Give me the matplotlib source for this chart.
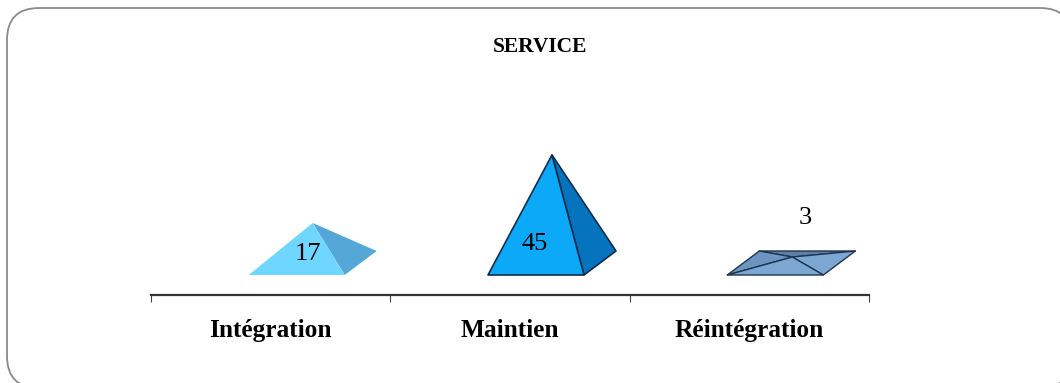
import matplotlib
matplotlib.use("Agg")
import matplotlib.pyplot as plt
from matplotlib.patches import FancyBboxPatch, Polygon

W, H = 1060, 383
categories = ["Intégration", "Maintien", "Réintégration"]
values = [17, 45, 3]
title = "SERVICE"

fig = plt.figure(figsize=(W / 100, H / 100), dpi=100)
bg = fig.add_axes([0, 0, 1, 1])
bg.set_xlim(0, W)
bg.set_ylim(H, 0)
bg.axis("off")
bg.add_patch(FancyBboxPatch((7, 8), 1065, 380, boxstyle="round,pad=0,rounding_size=32",
                            fc="white", ec="#8a8a8a", lw=1.3))

# axis frame spans the three categories; 1 value unit is about 2.43 px
x0, x1, ybase = 151, 869, 295
px_per_unit = 2.43
floor_value = -4.4
ax_h = 180
ymin = floor_value - 20 / px_per_unit
ax = fig.add_axes([x0 / W, 1 - ybase / H, (x1 - x0) / W, ax_h / H], facecolor="none")
ax.set_xlim(-0.5, 2.5)
ax.set_ylim(ymin, ymin + ax_h / px_per_unit)
for s in ("top", "left", "right"):
    ax.spines[s].set_visible(False)
ax.spines["bottom"].set_color("#333333")
ax.spines["bottom"].set_linewidth(1.6)
ax.set_yticks([])
ax.set_xticks([-0.5, 0.5, 1.5, 2.5])
ax.set_xticklabels([])
ax.tick_params(axis="x", length=5, width=0.8, color="#444444")

dx = 1 / (718 / 3)
half = 48 * dx
off_x = 32 * dx
off_y = 24 / px_per_unit
shift = 26 * dx

STYLES = [
    dict(front="#6FD7FF", side="#55A7D8", edge="none", lw=0),
    dict(front="#0CA9F9", side="#0673BF", edge="#0C2C4C", lw=1.2),
    dict(front="#7DA7D3", side="#7DA7D3", edge="#1E3550", lw=1.0),
]
APEX_DX = [16, 16, 17]

for i, (v, st) in enumerate(zip(values, STYLES)):
    c = i + shift
    A = (c - half, floor_value)
    B = (c + half, floor_value)
    C = (B[0] + off_x, floor_value + off_y)
    D = (A[0] + off_x, floor_value + off_y)
    E = (c + APEX_DX[i] * dx, v)
    kw = dict(ec=st["edge"], lw=st["lw"], joinstyle="round")
    if i == 2:
        ax.add_patch(Polygon([D, C, E], fc="#5F80A6", **kw))
        ax.add_patch(Polygon([A, D, E], fc="#6C95C1", **kw))
    ax.add_patch(Polygon([B, C, E], fc=st["side"], **kw))
    ax.add_patch(Polygon([A, B, E], fc=st["front"], **kw))

serif = ["Liberation Serif", "DejaVu Serif"]
for i, lab in enumerate(categories):
    ax.annotate(lab, (i, 0), xycoords=("data", "axes fraction"), xytext=(0, -25.5),
                textcoords="offset points", ha="center", va="center",
                family=serif, fontweight="bold", fontsize=18.3, color="black")

LABEL_PX = [(308, 253.5), (535, 244.5), (805, 218.5)]
for (px, py), v in zip(LABEL_PX, values):
    ax.text(px, py, str(v), transform=bg.transData, ha="center", va="center",
            family=serif, fontsize=19, color="black", zorder=5)
bg.text(540, 47.5, title, ha="center", va="center", family=serif, fontweight="bold",
        fontsize=15.5, color="black")

fig.savefig("out.png", dpi=100)
